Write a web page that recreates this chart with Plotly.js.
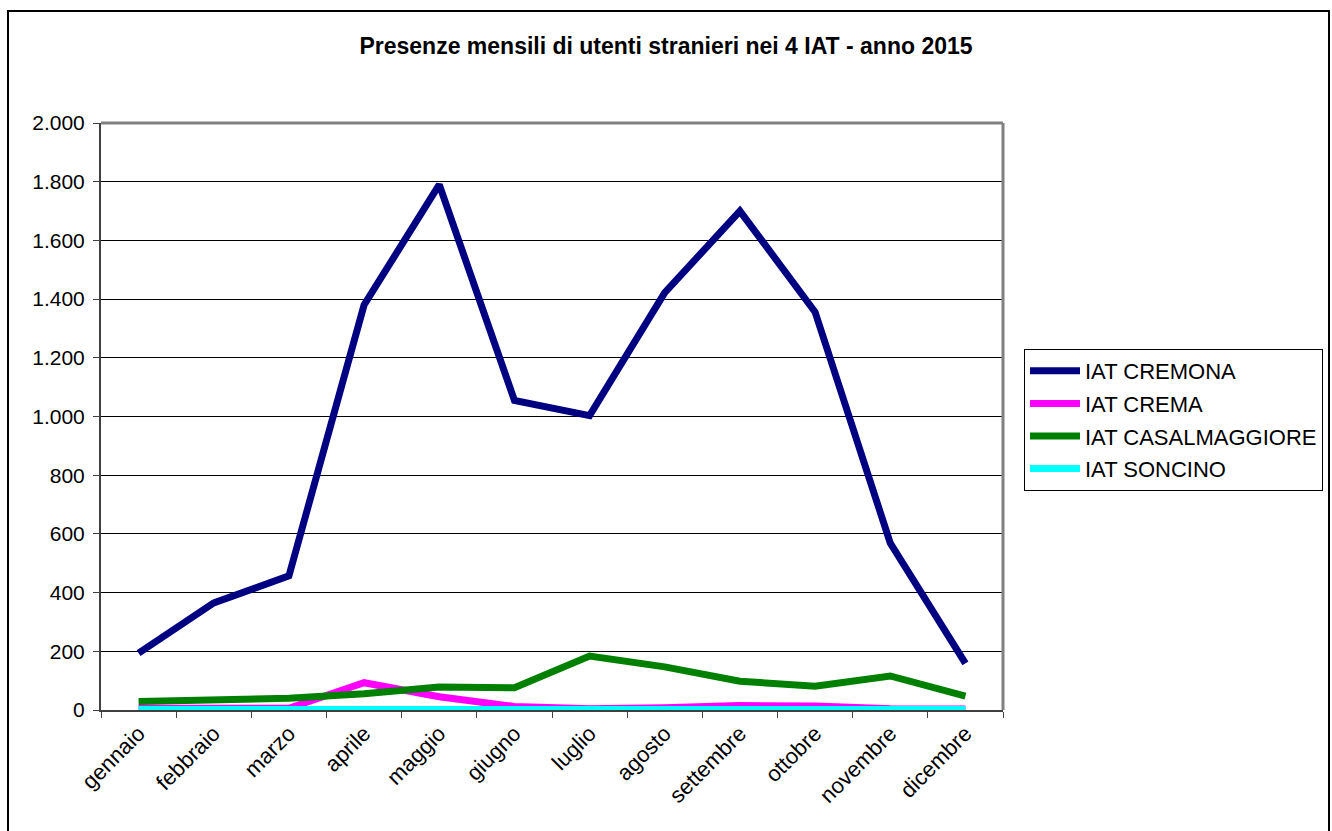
<!DOCTYPE html>
<html>
<head>
<meta charset="utf-8">
<script src="https://cdn.plot.ly/plotly-3.0.1.min.js"></script>
<style>
  html, body { margin: 0; padding: 0; background: #fff; }
  #chart { width: 1332px; height: 831px; }
</style>
</head>
<body>
<div id="chart"></div>
<script>
const months = ["gennaio", "febbraio", "marzo", "aprile", "maggio", "giugno", "luglio", "agosto", "settembre", "ottobre", "novembre", "dicembre"];
const cremona = [194, 365, 457, 1380, 1790, 1055, 1003, 1422, 1700, 1356, 569, 159];
const crema = [6, 5, 6, 93, 45, 12, 4, 8, 15, 14, 4, 3];
const casalmaggiore = [29, 34, 40, 55, 78, 76, 184, 147, 98, 81, 116, 47];
const soncino = [2, 2, 2, 2, 2, 2, 2, 2, 2, 2, 2, 2];

const seriesNames = ["IAT CREMONA", "IAT CREMA", "IAT CASALMAGGIORE", "IAT SONCINO"];
const seriesColors = ["#000080", "#FF00FF", "#008000", "#00FFFF"];
const seriesValues = [cremona, crema, casalmaggiore, soncino];

const traces = seriesValues.map((vals, i) => ({
  type: "scatter",
  mode: "lines",
  x: months,
  y: vals,
  name: seriesNames[i],
  legendgroup: "g" + i,
  line: { color: seriesColors[i], width: 7 }
}));

const W = 1332, H = 831;
const L = 101, R = 1003, T = 123, B = 710;
const pw = R - L, ph = B - T;
const px = v => (v - L) / pw;
const py = v => (B - v) / ph;
const FAM = "Arial, 'Liberation Sans', sans-serif";

const layout = {
  width: W, height: H,
  margin: { l: L, r: W - R, t: T, b: H - B, pad: 0, autoexpand: false },
  paper_bgcolor: "#ffffff",
  plot_bgcolor: "#ffffff",
  separators: ",.",
  font: { family: FAM, size: 21, color: "#000" },
  title: {
    text: "<b>Presenze mensili di utenti stranieri nei 4 IAT - anno 2015</b>",
    font: { family: FAM, size: 23, color: "#000" },
    xref: "container", yref: "container",
    x: 0.5, xanchor: "center",
    y: 1 - 46 / H, yanchor: "middle"
  },
  showlegend: true,
  legend: {
    x: px(1024), xanchor: "left",
    y: py(349), yanchor: "top",
    bgcolor: "#ffffff",
    bordercolor: "#000000",
    borderwidth: 1,
    tracegroupgap: 1,
    itemwidth: 50,
    font: { family: FAM, size: 22, color: "#000" }
  },
  xaxis: {
    type: "category",
    range: [-0.5, 11.5],
    automargin: false,
    showgrid: false,
    zeroline: false,
    showline: true,
    linecolor: "#404040",
    linewidth: 2,
    ticks: "outside",
    tickson: "boundaries",
    ticklen: 6,
    tickcolor: "#404040",
    tickwidth: 1,
    tickangle: -45,
    tickfont: { family: FAM, size: 22, color: "#000" },
    fixedrange: true
  },
  yaxis: {
    range: [0, 2000],
    automargin: false,
    dtick: 200,
    tick0: 0,
    tickformat: ",d",
    showgrid: true,
    gridcolor: "#000000",
    gridwidth: 1,
    zeroline: false,
    showline: true,
    linecolor: "#404040",
    linewidth: 2,
    ticks: "outside",
    ticklen: 6,
    tickcolor: "#404040",
    tickwidth: 1,
    ticklabelstandoff: 4,
    tickfont: { family: FAM, size: 21, color: "#000" },
    fixedrange: true
  },
  shapes: [
    { type: "line", xref: "paper", yref: "paper", x0: 0, x1: 1, y0: 1, y1: 1,
      line: { color: "#808080", width: 3 }, layer: "above" },
    { type: "line", xref: "paper", yref: "paper", x0: 1, x1: 1, y0: 0, y1: 1,
      line: { color: "#808080", width: 3 }, layer: "above" },
    { type: "rect", xref: "paper", yref: "paper",
      x0: px(8), x1: px(1329), y0: py(850), y1: py(11),
      line: { color: "#000000", width: 2 }, fillcolor: "rgba(0,0,0,0)", layer: "below" }
  ]
};

Plotly.newPlot("chart", traces, layout, { displayModeBar: false, staticPlot: true });
</script>
</body>
</html>
